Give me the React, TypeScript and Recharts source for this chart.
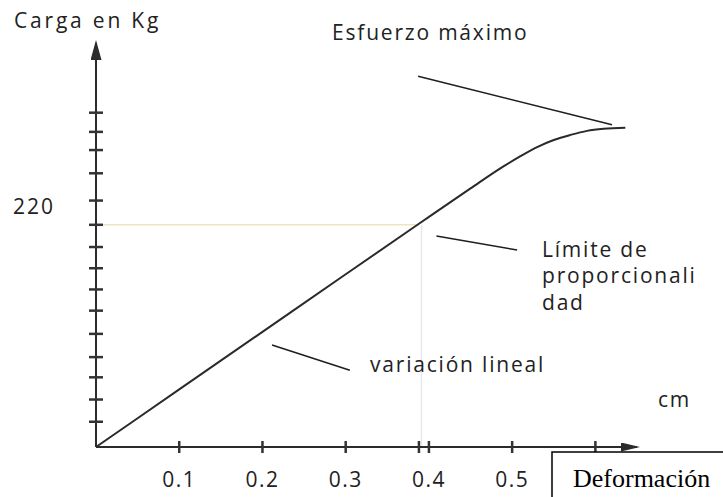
import React from 'react'
import { LineChart, Line, XAxis, YAxis, ReferenceLine } from 'recharts'

// curva carga-deformación
const deformation = [0, 0.1, 0.2, 0.3, 0.388, 0.45, 0.49, 0.51, 0.53, 0.55, 0.57, 0.59, 0.61, 0.636]
const load = [0, 57, 114, 171, 221, 256, 278, 288, 297, 304, 309, 313, 315, 316]

const xTicks = [0.1, 0.2, 0.3, 0.388, 0.4, 0.5, 0.6]
const xTickLabels = ['0.1', '0.2', '0.3', '', '0.4', '0.5', '']
const yTicks = [25, 47, 69, 89, 112, 135, 156, 177, 198, 220, 244, 271, 294, 312, 331]
const yLabelled = 220

const limitX = 0.388
const limitLoad = 220

// líneas indicadoras (cm, kg)
const pointers = [
  { from: [0.387, 367], to: [0.62, 319] },
  { from: [0.409, 209], to: [0.506, 195] },
  { from: [0.2115, 101], to: [0.305, 76] },
]

const data = deformation.map((d, i) => ({ d, carga: load[i] }))

const SANS = '"Open Sans", "DejaVu Sans", sans-serif'
const INK = '#222'

const XTick = ({ x, y, index }: any) => {
  const label = xTickLabels[index] ?? ''
  return (
    <g>
      <line x1={x} x2={x} y1={y - 6} y2={y + 6} stroke="#333" strokeWidth={2.5} />
      {label && (
        <text x={x} y={y + 40} textAnchor="middle" fontFamily={SANS} fontSize={21} fill={INK} letterSpacing={1.5}>
          {label}
        </text>
      )}
    </g>
  )
}

const YTick = ({ x, y, payload }: any) => (
  <g>
    <line x1={x - 7} x2={x + 7} y1={y} y2={y} stroke="#333" strokeWidth={2.5} />
    {payload.value === yLabelled && (
      <text x={13} y={y - 11} fontFamily={SANS} fontSize={21} fill={INK} letterSpacing={2}>
        {yLabelled}
      </text>
    )}
  </g>
)

export default function App() {
  return (
    <div style={{ position: 'absolute', left: 0, top: 0, width: 723, height: 497, background: '#fff' }}>
      <LineChart width={723} height={497} data={data} margin={{ top: 43, right: 86, left: 0, bottom: 0 }}>
        <defs>
          <marker id="arrowX" markerUnits="userSpaceOnUse" markerWidth={20} markerHeight={10} refX={16} refY={4.5} orient="auto">
            <path d="M0,0 L19,4.5 L0,9 z" fill="#2b2b2b" />
          </marker>
          <marker id="arrowY" markerUnits="userSpaceOnUse" markerWidth={22} markerHeight={12} refX={17} refY={5.5} orient="auto-start-reverse">
            <path d="M0,0 L20,5.5 L0,11 z" fill="#2b2b2b" />
          </marker>
        </defs>
        <XAxis
          type="number"
          dataKey="d"
          domain={[0, 0.65]}
          ticks={xTicks}
          interval={0}
          height={50}
          tickSize={0}
          tickMargin={0}
          tickLine={false}
          tick={<XTick />}
          axisLine={{ stroke: '#2b2b2b', strokeWidth: 2, markerEnd: 'url(#arrowX)' }}
        />
        <YAxis
          type="number"
          domain={[0, 400]}
          ticks={yTicks}
          interval={0}
          width={96}
          tickSize={0}
          tickMargin={0}
          tickLine={false}
          tick={<YTick />}
          axisLine={{ stroke: '#2b2b2b', strokeWidth: 2, markerStart: 'url(#arrowY)' }}
        />
        <ReferenceLine
          segment={[{ x: 0, y: limitLoad }, { x: limitX, y: limitLoad }]}
          stroke="#ebe5c6"
          strokeWidth={1.5}
        />
        <ReferenceLine
          segment={[{ x: limitX + 0.003, y: 0 }, { x: limitX + 0.003, y: limitLoad }]}
          stroke="#e8e6ee"
          strokeWidth={1.5}
        />
        {pointers.map((p, i) => (
          <ReferenceLine
            key={i}
            segment={[{ x: p.from[0], y: p.from[1] }, { x: p.to[0], y: p.to[1] }]}
            stroke="#1e1e1e"
            strokeWidth={1.5}
          />
        ))}
        <Line
          type="monotone"
          dataKey="carga"
          stroke="#2a2a2a"
          strokeWidth={2}
          dot={false}
          isAnimationActive={false}
        />
      </LineChart>
      <svg width={723} height={497} style={{ position: 'absolute', left: 0, top: 0, pointerEvents: 'none' }}>
        <g fontFamily={SANS} fontSize={21} fill={INK} letterSpacing={1.8}>
          <text x={14} y={28} letterSpacing={2.8}>Carga en Kg</text>
          <text x={332} y={40}>Esfuerzo máximo</text>
          <text x={542} y={257}>Límite de</text>
          <text x={542} y={283}>proporcionali</text>
          <text x={542} y={310}>dad</text>
          <text x={370} y={372}>variación lineal</text>
          <text x={658} y={407}>cm</text>
        </g>
        <rect x={552} y={452} width={200} height={60} fill="#fff" stroke="#000" strokeWidth={1.5} />
        <text x={573} y={487} fontFamily='"Liberation Serif", "Times New Roman", serif' fontSize={26} fill="#000">
          Deformación
        </text>
      </svg>
    </div>
  )
}
